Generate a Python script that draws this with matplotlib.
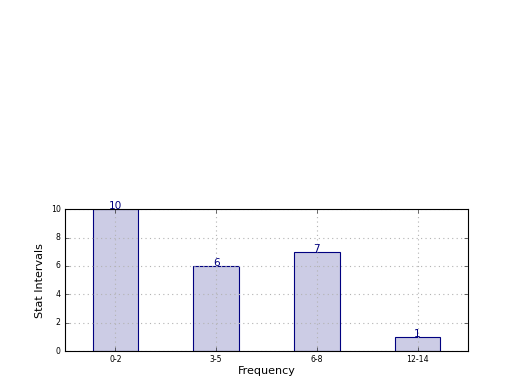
import matplotlib
matplotlib.use("Agg")
import matplotlib.pyplot as plt
import numpy as np

plt.style.use("classic")

categories = ["0-2", "3-5", "6-8", "12-14"]
counts = [10, 6, 7, 1]

fig = plt.figure(figsize=(6.5, 4.875), dpi=80)
ax = fig.add_subplot(212)

x = np.arange(len(categories))
ax.bar(x, counts, width=0.45, align="center",
       facecolor=(0, 0, 0.5, 0.2), edgecolor=(0, 0, 0.5, 1.0), linewidth=1)

for xi, c in zip(x, counts):
    ax.text(xi, c - 0.15, str(c), ha="center", va="bottom",
            color=(0, 0, 0.5), fontsize=9.5)

ax.set_xticks(x)
ax.set_xticklabels(categories, fontsize=7)
ax.tick_params(axis="y", labelsize=7)
ax.set_xlim(-0.5, len(categories) - 0.5)
ax.set_ylim(0, 10)
ax.grid(True, color="0.7", linestyle=":", linewidth=1)
for s in ax.spines.values():
    s.set_zorder(5)
ax.set_xlabel("Frequency", fontsize=10, labelpad=1)
ax.set_ylabel("Stat Intervals", fontsize=10)

fig.savefig("out.png", dpi=80)
